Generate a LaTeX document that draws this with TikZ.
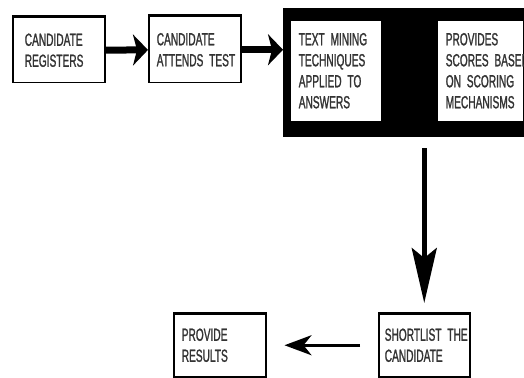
\documentclass[tikz,border=0pt]{standalone}
\usepackage{fontspec}
\newfontfamily\boxfont{Liberation Sans}[FakeStretch=0.58,WordSpace=0.5,FakeBold=1.2]
\usetikzlibrary{arrows.meta}
\hyphenpenalty=10000

\begin{document}
\begin{tikzpicture}[x=1pt,y=-1pt,
        stage/.style={draw,line width=1.5pt,anchor=north west,align=left,
            inner xsep=8pt,text width=76pt,minimum height=65pt,
            font=\boxfont\fontsize{17.5}{21}\selectfont,text=black!80},
        panel/.style={stage,draw=none,fill=white,text width=74pt,minimum height=100pt},
        fatarrow/.style={line width=7pt,-{Stealth[length=15pt,width=31pt,inset=4pt]}},
        downarrow/.style={line width=4.5pt,-{Stealth[length=55pt,width=25pt,inset=10pt]},
            shorten <=11pt,shorten >=10pt},
        backarrow/.style={line width=3pt,-{Stealth[length=27pt,width=20pt,inset=8pt]},
            shorten <=18pt,shorten >=18pt}]
        %% frame of the page
        \useasboundingbox (0,0) rectangle (524,377);
        \clip (0,0) rectangle (524,377);
        %% first two steps
        \node[stage,inner xsep=12pt,text width=68pt] (reg) at (12,17) {CANDIDATE\\REGISTERS};
        \node[stage,minimum height=66pt] (test) at (148,16) {CANDIDATE\\ATTENDS~TEST};
        %% black block holding the scoring steps
        \node[fill=black,anchor=north west,inner sep=0pt,
            minimum width=241pt,minimum height=129pt] (core) at (283,8) {};
        \node[panel] (mine) at (290,20) {TEXT~MINING\\TECHNIQUES\\APPLIED~TO\\ANSWERS};
        \node[panel,text width=69pt] (score) at (437,20) {PROVIDES\\SCORES~BASED\\ON~SCORING\\MECHANISMS};
        %% last two steps
        \node[stage,minimum height=63pt,text width=79pt,inner xsep=6pt] (short) at (378,313) {SHORTLIST~THE\\CANDIDATE};
        \node[stage,minimum height=63pt] (result) at (173,313) {PROVIDE\\RESULTS};
        %% heavier top edge on each box
        \foreach \n in {reg,test,short,result}
            \draw[line width=3pt] (\n.north west) -- (\n.north east);
        %% arrows
        \draw[fatarrow] (reg) -- (test);
        \draw[fatarrow] (test) -- (test -| core.west);
        \draw[downarrow] (short.north |- core.south) -- (short.north);
        \draw[backarrow] (short) -- (result);
    \end{tikzpicture}
\end{document}
